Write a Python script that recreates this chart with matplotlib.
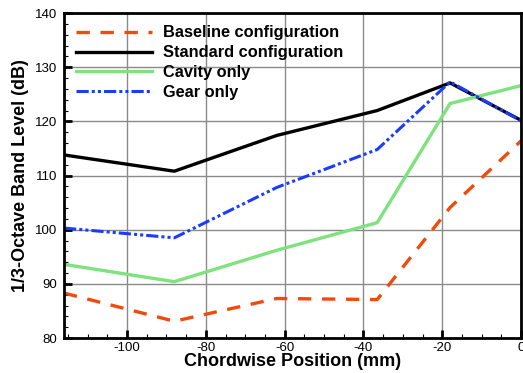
import matplotlib
matplotlib.use("Agg")
import matplotlib.pyplot as plt
from matplotlib.ticker import MultipleLocator

plt.rcParams['font.family'] = ['Liberation Sans', 'DejaVu Sans']
plt.rcParams['axes.unicode_minus'] = False

# chordwise positions (mm)
pos = [-116, -88, -62, -36.5, -18, 0]

baseline = [88.3, 83.1, 87.3, 87.1, 104.1, 116.4]
standard = [113.8, 110.8, 117.4, 122.0, 127.1, 120.2]
cavity = [93.6, 90.4, 96.2, 101.3, 123.3, 126.6]
gear = [100.3, 98.5, 107.8, 114.8, 127.3, 120.1]

labels = ["Baseline configuration", "Standard configuration", "Cavity only", "Gear only"]

fig = plt.figure(figsize=(5.23, 3.73), dpi=100)
ax = fig.add_axes([0.1224, 0.0938, 0.8738, 0.8712])

ax.plot(pos, baseline, color="#F04A0C", lw=2.4, dashes=(4, 3.2), label=labels[0])
ax.plot(pos, standard, color="black", lw=2.4, label=labels[1])
ax.plot(pos, cavity, color="#7EE27E", lw=2.4, label=labels[2])
ax.plot(pos, gear, color="#1A3CFF", lw=2.2, dashes=(4, 1, 1, 1, 1, 1), label=labels[3])

ax.set_xlim(-116, 0)
ax.set_ylim(80, 140)
ax.xaxis.set_major_locator(MultipleLocator(20))
ax.xaxis.set_minor_locator(MultipleLocator(5))
ax.yaxis.set_major_locator(MultipleLocator(10))
ax.yaxis.set_minor_locator(MultipleLocator(2))
ax.grid(True, which="major", color="#8a8a8a", lw=1)
ax.set_axisbelow(True)
ax.tick_params(which="both", direction="in", labelsize=9.5)
ax.tick_params(axis="y", pad=5)
ax.tick_params(axis="x", pad=3)
ax.tick_params(which="major", length=6, width=2)
ax.tick_params(which="minor", length=3, width=0.8)
for s in ax.spines.values():
    s.set_linewidth(2)

ax.set_xlabel("Chordwise Position (mm)", fontsize=13, fontweight="bold", labelpad=-1)
ax.set_ylabel("1/3-Octave Band Level (dB)", fontsize=13, fontweight="bold", labelpad=4)

leg = ax.legend(loc="upper left", frameon=False, handlelength=4.6, handletextpad=0.7,
                labelspacing=0.3, borderaxespad=0.35, prop={"size": 11.8, "weight": "bold"})

fig.savefig("out.png", dpi=100)
